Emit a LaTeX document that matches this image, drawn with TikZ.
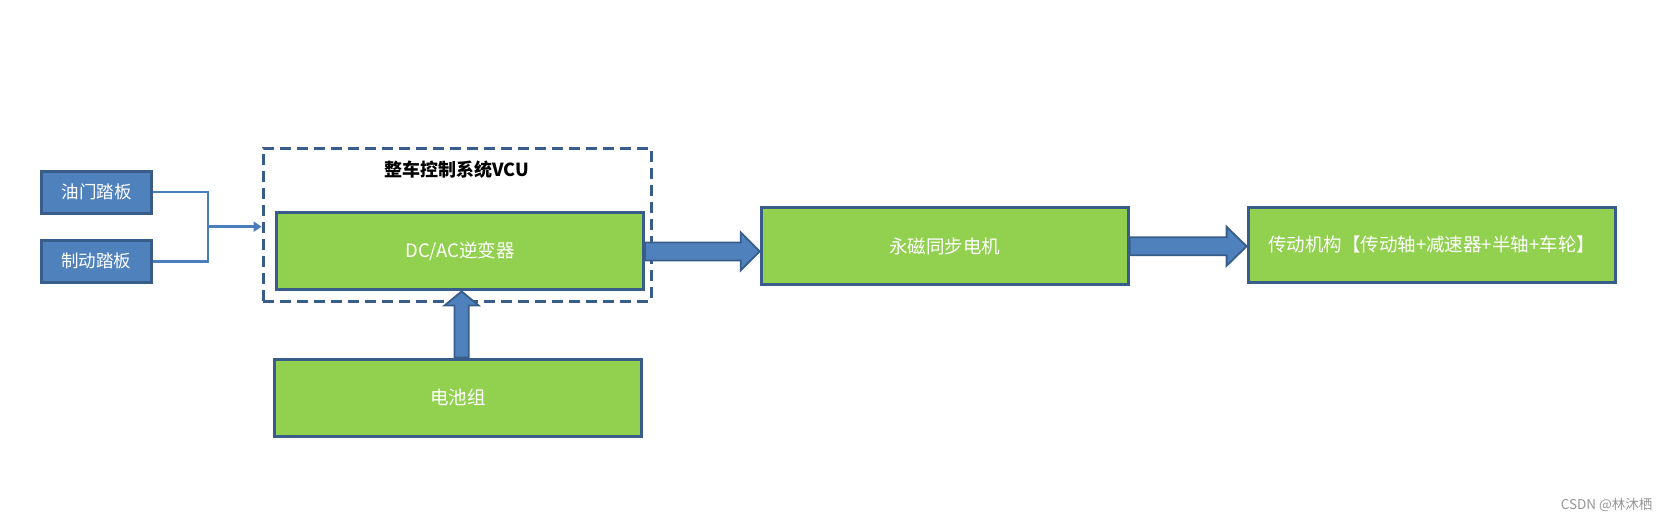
\documentclass[tikz,border=0pt]{standalone}
\usepackage{fontspec}
\newfontfamily\cjk{Noto Sans CJK SC}
\usepackage{tikz}
\usetikzlibrary{
  arrows.meta,
  calc,
  positioning
}
\usepackage{xcolor}
\definecolor{fillG}{RGB}{146, 208, 80}
\definecolor{fillP}{RGB}{79, 129, 189}
\definecolor{lineB}{RGB}{56, 93, 138}
\definecolor{connB}{RGB}{74, 126, 187}
\definecolor{credgray}{RGB}{150,150,150}
\tikzset{
  % Asosiy bloklar
  greenbox/.style  = {draw=lineB, fill=fillG, line width=3pt, text=white,
                      minimum width=367pt, minimum height=77pt,
                      font=\cjk\fontsize{18.5}{22}\selectfont},
  pedalbox/.style  = {draw=lineB, fill=fillP, line width=3pt, text=white,
                      minimum width=110pt, minimum height=42pt,
                      font=\cjk\fontsize{17.5}{21}\selectfont},
  % Tizim chegarasi
  vcuframe/.style  = {draw=lineB, line width=3pt, dash pattern=on 11pt off 6pt,
                      minimum width=388pt, minimum height=153pt},
  titlelab/.style  = {font=\cjk\bfseries\fontsize{18}{22}\selectfont, text=black},
  % Ulash chiziqlari
  conn/.style      = {draw=connB, line width=2.8pt},
  % Blok o'qlar
  blockarr/.style  = {draw=lineB, fill=fillP, line width=1.8pt, line join=miter},
  rarrow/.style n args={3}{blockarr, to path={
      ($(\tikztostart)+(0,-#1)$) -- ($(\tikztotarget)+(-#3,-#1)$)
      -- ($(\tikztotarget)+(-#3,-#2)$) -- (\tikztotarget)
      -- ($(\tikztotarget)+(-#3,#2)$) -- ($(\tikztotarget)+(-#3,#1)$)
      -- ($(\tikztostart)+(0,#1)$) -- cycle}},
  uarrow/.style n args={3}{blockarr, to path={
      ($(\tikztostart)+(-#1,0)$) -- ($(\tikztotarget)+(-#1,#3)$)
      -- ($(\tikztotarget)+(-#2,#3)$) -- (\tikztotarget)
      -- ($(\tikztotarget)+(#2,#3)$) -- ($(\tikztotarget)+(#1,#3)$)
      -- ($(\tikztostart)+(#1,0)$) -- cycle}},
  credit/.style    = {font=\cjk\fontsize{13.5}{16}\selectfont, text=credgray},
}
\begin{document}
\begin{tikzpicture}[x=1pt, y=-1pt]
  \useasboundingbox (0,0) rectangle (1671,522);
  % Pedallar
  \node[pedalbox] (thr) at (96.8,192) {油门踏板};
  \node[pedalbox] (brk) at (96.3,261.3) {制动踏板};
  % VCU
  \node[vcuframe] (vcu) at (457.1,224.7) {};
  \node[titlelab] (vcutitle) at (456.5,170) {整车控制系统VCU};
  \node[greenbox] (inv) at (460,251.4) {DC/AC逆变器};
  \node[greenbox] (bat) at (458.2,397.5) {电池组};
  % Motor va uzatma
  \node[greenbox] (mot) at (944.7,246.3) {永磁同步电机};
  \node[greenbox, minimum height=75pt] (drv) at (1431.6,244.7) {传动机构【传动轴+减速器+半轴+车轮】};
  % Pedal signallari
  \coordinate (jn) at ($(thr.east)!0.5!(brk.east)+(55,0)$);
  \draw[conn] (thr.east) -| (jn) |- (brk.east);
  \draw[conn, -{Triangle[length=8pt,width=10pt]}] (jn) -- (jn -| vcu.west);
  % Quvvat oqimi
  \coordinate (invR) at (mot.west |- inv.east);
  \draw[rarrow={9}{19}{19}] (inv.east) to (invR);
  \coordinate (motR) at (drv.west |- mot.east);
  \draw[rarrow={9}{19.5}{20}] (mot.east) to (motR);
  \coordinate (batU) at ($(bat.north)+(3.4,0)$);
  \coordinate (invD) at (batU |- inv.south);
  \draw[uarrow={7.2}{17}{14}] (batU) to (invD);
  \node[credit, anchor=east] (csdn) at (1656,505) {CSDN @林沐栖};
\end{tikzpicture}
\end{document}
